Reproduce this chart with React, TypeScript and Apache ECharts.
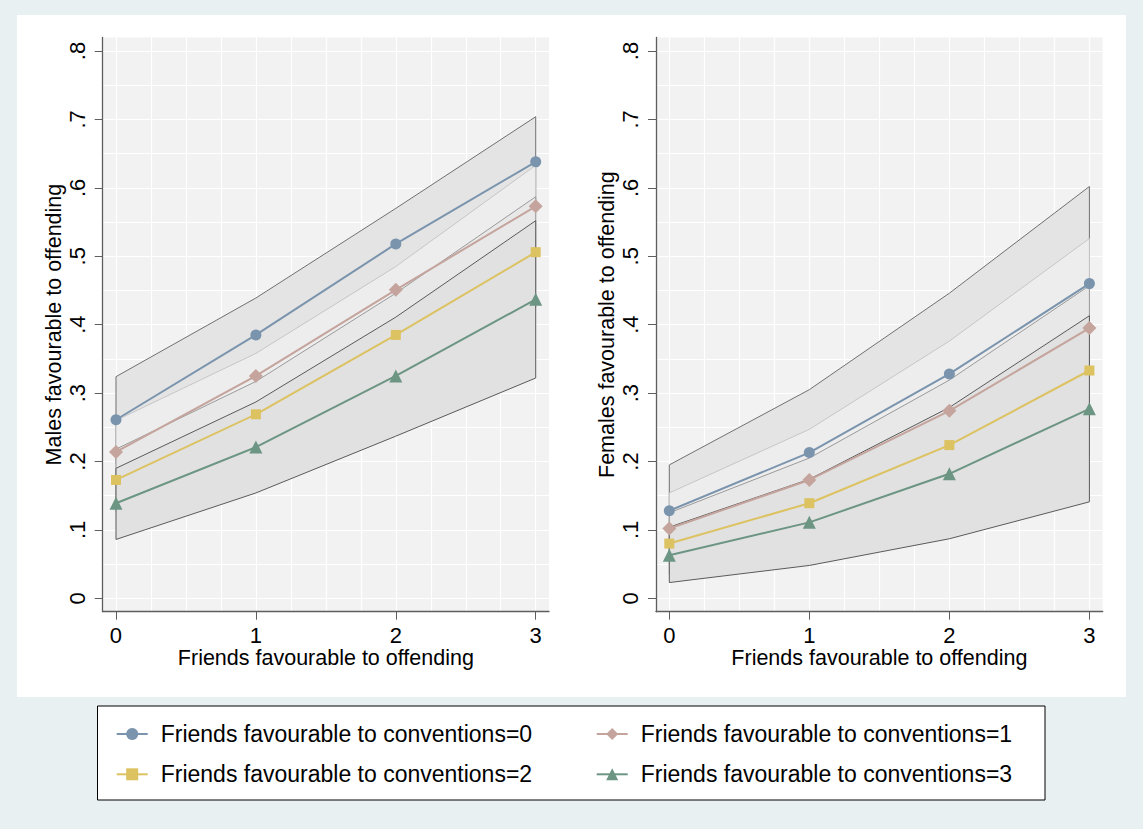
import React, { useEffect, useRef } from 'react';
import * as echarts from 'echarts';

// ---------- data ----------
const xValues = [0, 1, 2, 3];
const xTickLabels = ['0', '1', '2', '3'];
const xGridValues = [0, 0.25, 0.5, 0.75, 1, 1.25, 1.5, 1.75, 2, 2.25, 2.5, 2.75, 3];
const yTicks = [0, 0.1, 0.2, 0.3, 0.4, 0.5, 0.6, 0.7, 0.8];
const yTickLabels = ['0', '.1', '.2', '.3', '.4', '.5', '.6', '.7', '.8'];
const yGridValues = [0, 0.05, 0.1, 0.15, 0.2, 0.25, 0.3, 0.35, 0.4, 0.45, 0.5, 0.55, 0.6, 0.65, 0.7, 0.75, 0.8];

const seriesNames = [
  'Friends favourable to conventions=0',
  'Friends favourable to conventions=1',
  'Friends favourable to conventions=2',
  'Friends favourable to conventions=3',
];
const xTitle = 'Friends favourable to offending';
const yTitles = ['Males favourable to offending', 'Females favourable to offending'];

// Males: point estimates and confidence limits
const maleEst0 = [0.261, 0.385, 0.518, 0.638];
const maleEst1 = [0.214, 0.325, 0.451, 0.573];
const maleEst2 = [0.173, 0.269, 0.385, 0.506];
const maleEst3 = [0.139, 0.221, 0.325, 0.437];
const maleLo0 = [0.197, 0.331, 0.466, 0.572];
const maleHi0 = [0.324, 0.439, 0.570, 0.704];
const maleLo1 = [0.168, 0.292, 0.416, 0.513];
const maleHi1 = [0.260, 0.358, 0.485, 0.633];
const maleLo2 = [0.127, 0.221, 0.324, 0.425];
const maleHi2 = [0.218, 0.317, 0.446, 0.587];
const maleLo3 = [0.086, 0.154, 0.237, 0.322];
const maleHi3 = [0.190, 0.287, 0.411, 0.552];

// Females: point estimates and confidence limits
const femEst0 = [0.128, 0.213, 0.328, 0.460];
const femEst1 = [0.102, 0.173, 0.274, 0.395];
const femEst2 = [0.080, 0.139, 0.224, 0.333];
const femEst3 = [0.063, 0.111, 0.182, 0.277];
const femLo0 = [0.061, 0.122, 0.210, 0.319];
const femHi0 = [0.195, 0.305, 0.446, 0.602];
const femLo1 = [0.049, 0.099, 0.172, 0.263];
const femHi1 = [0.154, 0.247, 0.376, 0.526];
const femLo2 = [0.035, 0.073, 0.129, 0.208];
const femHi2 = [0.125, 0.205, 0.319, 0.457];
const femLo3 = [0.023, 0.048, 0.087, 0.141];
const femHi3 = [0.104, 0.174, 0.279, 0.413];

// ---------- styles ----------
const FONT = '"Liberation Sans", Arial, Helvetica, sans-serif';
const seriesColors = ['#7b94ad', '#c4a49c', '#dcc260', '#6c9583'];
const seriesSymbols = ['circle', 'diamond', 'rect', 'triangle'];
const symbolSizes = [11, 14, 10, 13];
const bandFills = ['#e4e4e4', '#ededed', '#e8e8e8', '#e1e1e1'];
const bandStrokes = ['#707070', '#c6c6c6', '#9a9a9a', '#5a5a5a'];
const AXIS_COLOR = '#5e5e5e';

const panels = [
  {
    yTitle: yTitles[0],
    est: [maleEst0, maleEst1, maleEst2, maleEst3],
    lo: [maleLo0, maleLo1, maleLo2, maleLo3],
    hi: [maleHi0, maleHi1, maleHi2, maleHi3],
    box: { left: 102.7, top: 37.5, width: 446.3, height: 574.2 },
  },
  {
    yTitle: yTitles[1],
    est: [femEst0, femEst1, femEst2, femEst3],
    lo: [femLo0, femLo1, femLo2, femLo3],
    hi: [femHi0, femHi1, femHi2, femHi3],
    box: { left: 656, top: 37.5, width: 446.7, height: 574.2 },
  },
];

const labelFor = (vals: number[], labels: string[]) => (v: number) => {
  const i = vals.findIndex((t) => Math.abs(t - v) < 1e-6);
  return i >= 0 ? labels[i] : '';
};

function buildOption() {
  const grid: any[] = [];
  const xAxis: any[] = [];
  const yAxis: any[] = [];
  const series: any[] = [];

  panels.forEach((p, pi) => {
    grid.push({
      ...p.box,
      show: true,
      backgroundColor: '#f2f2f2',
      borderWidth: 0,
    });
    // main x axis
    xAxis.push({
      type: 'value',
      gridIndex: pi,
      min: -0.095,
      max: 3.095,
      position: 'bottom',
      name: xTitle,
      nameLocation: 'middle',
      nameGap: 35.5,
      nameMoveOverlap: false,
      nameTextStyle: { fontSize: 21.5, color: '#000', fontFamily: FONT },
      axisLine: { show: true, onZero: false, lineStyle: { color: AXIS_COLOR, width: 1.3 } },
      axisTick: { show: true, length: 8, customValues: xValues, lineStyle: { color: AXIS_COLOR, width: 1 } },
      axisLabel: {
        customValues: xValues,
        formatter: labelFor(xValues, xTickLabels),
        fontSize: 22,
        color: '#000',
        fontFamily: FONT,
        margin: 12.5,
      },
      splitLine: { show: false },
    });
    // grid-line x axis
    xAxis.push({
      type: 'value',
      gridIndex: pi,
      min: -0.095,
      max: 3.095,
      position: 'top',
      axisLine: { show: false },
      axisTick: { show: false, customValues: xGridValues },
      axisLabel: { show: false, customValues: xGridValues },
      splitLine: { show: true, lineStyle: { color: '#ffffff', width: 1.2 } },
    });
    // main y axis
    yAxis.push({
      type: 'value',
      gridIndex: pi,
      min: -0.0196,
      max: 0.8198,
      position: 'left',
      name: p.yTitle,
      nameLocation: 'middle',
      nameGap: 38,
      nameMoveOverlap: false,
      nameTextStyle: { fontSize: 21.5, color: '#000', fontFamily: FONT },
      axisLine: { show: true, onZero: false, lineStyle: { color: AXIS_COLOR, width: 1.3 } },
      axisTick: { show: true, length: 8, customValues: yTicks, lineStyle: { color: AXIS_COLOR, width: 1 } },
      axisLabel: {
        customValues: yTicks,
        formatter: labelFor(yTicks, yTickLabels),
        rotate: 90,
        fontSize: 22,
        color: '#000',
        fontFamily: FONT,
        margin: 14.5,
      },
      splitLine: { show: false },
    });
    // grid-line y axis
    yAxis.push({
      type: 'value',
      gridIndex: pi,
      min: -0.0196,
      max: 0.8198,
      position: 'right',
      axisLine: { show: false },
      axisTick: { show: false, customValues: yGridValues },
      axisLabel: { show: false, customValues: yGridValues },
      splitLine: { show: true, lineStyle: { color: '#ffffff', width: 1.2 } },
    });

    // confidence bands
    for (let s = 0; s < 4; s++) {
      const lo = p.lo[s];
      const hi = p.hi[s];
      series.push({
        type: 'custom',
        name: 'ci' + pi + s,
        xAxisIndex: pi * 2,
        yAxisIndex: pi * 2,
        silent: true,
        z: 1,
        data: xValues.map((x, i) => [x, lo[i], hi[i]]),
        encode: { x: 0, y: [1, 2] },
        renderItem: (params: any, api: any) => {
          if (params.dataIndexInside !== 0) return null;
          const upper = xValues.map((x, i) => api.coord([x, hi[i]]));
          const lower = xValues.map((x, i) => api.coord([x, lo[i]])).reverse();
          return {
            type: 'polygon',
            shape: { points: [...upper, ...lower] },
            style: { fill: bandFills[s], stroke: bandStrokes[s], lineWidth: 1 },
          };
        },
      });
    }
    // point-estimate lines
    for (let s = 0; s < 4; s++) {
      series.push({
        type: 'line',
        name: seriesNames[s],
        xAxisIndex: pi * 2,
        yAxisIndex: pi * 2,
        z: 3,
        data: xValues.map((x, i) => [x, p.est[s][i]]),
        symbol: seriesSymbols[s],
        symbolSize: symbolSizes[s],
        showSymbol: true,
        lineStyle: { color: seriesColors[s], width: 2 },
        itemStyle: { color: seriesColors[s] },
        emphasis: { disabled: true },
      });
    }
  });

  const legendCommon = {
    orient: 'vertical',
    top: 716,
    itemWidth: 31,
    itemHeight: 15,
    itemGap: 14.3,
    selectedMode: false,
    textStyle: {
      fontSize: 23,
      color: '#000',
      fontFamily: FONT,
      lineHeight: 26,
      padding: [0, 0, 0, 8],
    },
  };

  return {
    animation: false,
    backgroundColor: '#e8f0f2',
    textStyle: { fontFamily: FONT, color: '#000' },
    graphic: [
      {
        type: 'rect',
        z: -10,
        silent: true,
        shape: { x: 17, y: 15, width: 1109, height: 682 },
        style: { fill: '#ffffff' },
      },
      {
        type: 'rect',
        z: -10,
        silent: true,
        shape: { x: 97.5, y: 706, width: 947.5, height: 94 },
        style: { fill: '#ffffff', stroke: '#000000', lineWidth: 1 },
      },
    ],
    grid,
    xAxis,
    yAxis,
    legend: [
      { ...legendCommon, left: 110.7, data: [seriesNames[0], seriesNames[2]] },
      { ...legendCommon, left: 590.7, data: [seriesNames[1], seriesNames[3]] },
    ],
    series,
  };
}

export default function App() {
  const ref = useRef<HTMLDivElement>(null);
  useEffect(() => {
    if (!ref.current) return;
    const chart = echarts.init(ref.current, undefined, { renderer: 'svg' });
    chart.setOption(buildOption() as any);
    return () => chart.dispose();
  }, []);
  return (
    <div
      ref={ref}
      style={{ position: 'fixed', left: 0, top: 0, width: 1143, height: 829 }}
    />
  );
}
